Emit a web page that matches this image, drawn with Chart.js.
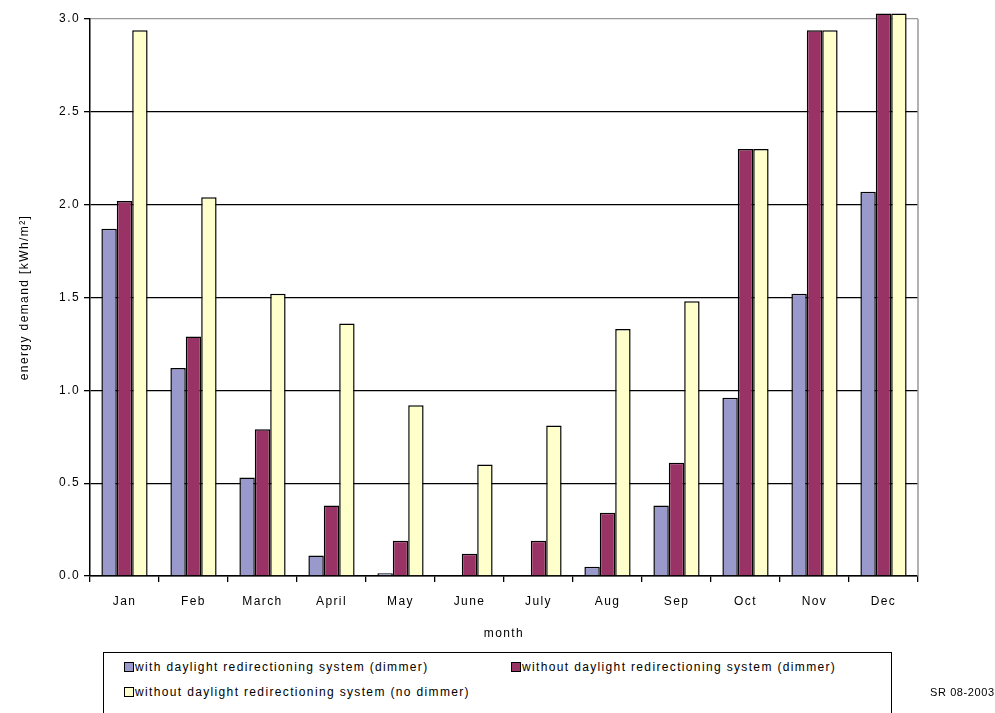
<!DOCTYPE html>
<html>
<head>
<meta charset="utf-8">
<title>Monthly energy demand</title>
<script src="https://cdn.jsdelivr.net/npm/chart.js@4/dist/chart.umd.min.js"></script>
<style>
  html, body { margin: 0; padding: 0; background: #fff; }
  #wrap { position: relative; width: 995px; height: 713px; overflow: hidden; font-family: "Liberation Sans", Arial, sans-serif; }
  #chart { position: absolute; left: 0; top: 0; }
  #legend { position: absolute; left: 103px; top: 652px; width: 789px; height: 70px; border: 1.5px solid #000; box-sizing: border-box; background: #fff; }
  .item { position: absolute; font-size: 12px; letter-spacing: 1.35px; color: #000; white-space: nowrap; line-height: 12px; }
  .swatch { display: inline-block; width: 8px; height: 8px; border: 1px solid #000; margin-right: 1px; vertical-align: -1px; }
  #credit { position: absolute; left: 930px; top: 686px; font-size: 11px; letter-spacing: 0.6px; color: #000; }
</style>
</head>
<body>
<div id="wrap">
  <canvas id="chart" width="995" height="713"></canvas>
  <div id="legend"></div>
  <div id="credit">SR 08-2003</div>
</div>
<script>
// months on the category axis
const months = ['Jan', 'Feb', 'March', 'April', 'May', 'June', 'July', 'Aug', 'Sep', 'Oct', 'Nov', 'Dec'];

// energy demand per month [kWh/m²]
const withRedirectionDimmer    = [1.87, 1.12, 0.53, 0.11, 0.015, 0.0, 0.0, 0.05, 0.38, 0.96, 1.52, 2.07];
const withoutRedirectionDimmer = [2.02, 1.29, 0.79, 0.38, 0.19, 0.12, 0.19, 0.34, 0.61, 2.30, 2.94, 3.03];
const withoutRedirectionNoDim  = [2.94, 2.04, 1.52, 1.36, 0.92, 0.60, 0.81, 1.33, 1.48, 2.30, 2.94, 3.03];

const seriesNames = [
  'with daylight redirectioning system (dimmer)',
  'without daylight redirectioning system (dimmer)',
  'without daylight redirectioning system (no dimmer)'
];
const seriesColors = ['#9999CC', '#993366', '#FFFFCC'];

const FONT = "'Liberation Sans', Arial, sans-serif";

// wide-tracked axis text, as in the printed figure
const tracking = {
  id: 'tracking',
  beforeUpdate(chart) { chart.ctx.letterSpacing = '1.4px'; },
  beforeDraw(chart) { chart.ctx.letterSpacing = '1.4px'; }
};

// thin grey frame on the right-hand side of the plot area
const rightFrame = {
  id: 'rightFrame',
  afterDraw(chart) {
    const { ctx, chartArea } = chart;
    ctx.save();
    ctx.strokeStyle = '#999';
    ctx.lineWidth = 1.5;
    ctx.beginPath();
    ctx.moveTo(chartArea.right, chartArea.top);
    ctx.lineTo(chartArea.right, chartArea.bottom);
    ctx.stroke();
    ctx.restore();
  }
};

const values = [withRedirectionDimmer, withoutRedirectionDimmer, withoutRedirectionNoDim];

new Chart(document.getElementById('chart'), {
  type: 'bar',
  data: {
    labels: months,
    datasets: values.map((v, i) => ({
      label: seriesNames[i],
      data: v,
      backgroundColor: seriesColors[i],
      borderColor: '#000',
      borderWidth: 1.5,
      borderSkipped: 'bottom',
      barPercentage: 1.0,
      categoryPercentage: 0.67,
      clip: false
    }))
  },
  options: {
    responsive: false,
    animation: false,
    layout: { padding: { left: 0, top: 19, right: 77, bottom: 68 } },
    plugins: {
      legend: { display: false },
      tooltip: { enabled: false }
    },
    scales: {
      x: {
        afterFit(scale) { scale.height = 69; },
        grid: {
          offset: true,
          drawOnChartArea: false,
          drawTicks: true,
          tickLength: 6,
          color: '#000',
          lineWidth: 1.3
        },
        border: { color: '#000', width: 1.5 },
        ticks: { color: '#000', font: { family: FONT, size: 12 }, padding: 12, maxRotation: 0 },
        title: { display: true, text: 'month', color: '#000', font: { family: FONT, size: 12 }, padding: { top: 10 } }
      },
      y: {
        min: 0,
        max: 3.0,
        afterFit(scale) { scale.width = 90; },
        grid: {
          color: (c) => (c.tick && c.tick.value === 3 ? '#999' : '#000'),
          tickColor: '#000',
          lineWidth: 1.3,
          tickLength: 6
        },
        border: { color: '#000', width: 1.5 },
        ticks: {
          stepSize: 0.5,
          color: '#000',
          font: { family: FONT, size: 12 },
          padding: 4,
          callback: (v) => Number(v).toFixed(1)
        },
        title: { display: true, text: 'energy demand [kWh/m²]', color: '#000', font: { family: FONT, size: 12 }, padding: { top: 17, bottom: 0 } }
      }
    }
  },
  plugins: [tracking, rightFrame]
});

// boxed legend below the chart
const legend = document.getElementById('legend');
const legendPos = [[20, 8], [407, 8], [20, 33]];
seriesNames.forEach((name, i) => {
  const el = document.createElement('div');
  el.className = 'item';
  el.style.left = legendPos[i][0] + 'px';
  el.style.top = legendPos[i][1] + 'px';
  const sw = document.createElement('span');
  sw.className = 'swatch';
  sw.style.background = seriesColors[i];
  el.appendChild(sw);
  el.appendChild(document.createTextNode(name));
  legend.appendChild(el);
});
</script>
</body>
</html>
